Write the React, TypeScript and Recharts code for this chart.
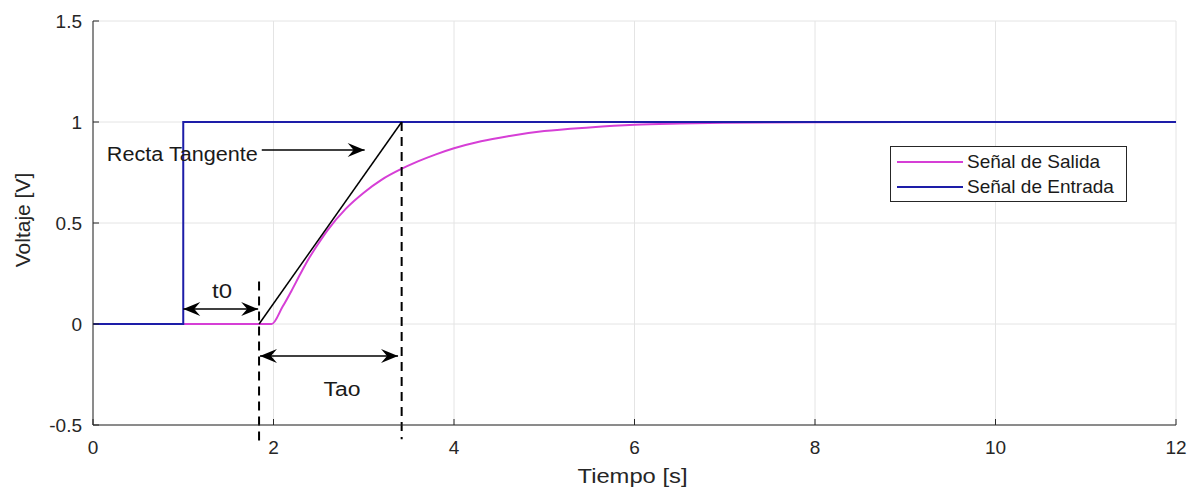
import { LineChart, Line, XAxis, YAxis, CartesianGrid, ReferenceLine, ReferenceDot, Legend } from 'recharts'

const entradaT = [0, 1, 1, 12]
const entradaV = [0, 0, 1, 1]

const salidaT = [0, 1.98, 2.1, 2.2, 2.3, 2.4, 2.5, 2.6, 2.8, 3.0, 3.2, 3.4, 3.6, 3.8, 4.0, 4.3, 4.6, 5.0, 5.5, 6.0, 6.5, 7.0, 8.0, 10, 12]
const salidaV = [0, 0, 0.085, 0.165, 0.25, 0.33, 0.4, 0.465, 0.57, 0.65, 0.715, 0.764, 0.805, 0.84, 0.87, 0.905, 0.93, 0.955, 0.973, 0.986, 0.992, 0.996, 0.999, 1, 1]

const tangenteT = [1.84, 3.42]
const tangenteV = [0, 1]

const xTicks = [0, 2, 4, 6, 8, 10, 12]
const yTicks = [-0.5, 0, 0.5, 1, 1.5]

const legendOrder = ['Señal de Salida', 'Señal de Entrada']

const AXIS = '#262626'
const FONT = '"Liberation Sans", Arial, sans-serif'

const toRows = (ts: number[], vs: number[]) => ts.map((t, i) => ({ t, v: vs[i] }))

const entrada = toRows(entradaT, entradaV)
const salida = toRows(salidaT, salidaV)
const tangente = toRows(tangenteT, tangenteV)

// filled "vback" arrow head, tip at (x, y), pointing along dir (+1 right, -1 left)
function head(x: number, y: number, dir: number) {
  const L = 17
  const W = 7
  const N = 11
  return `${x},${y} ${x - dir * L},${y - W} ${x - dir * N},${y} ${x - dir * L},${y + W}`
}

function arrowShape(both: boolean) {
  return (p: any) => {
    const { x1, y1, x2, y2 } = p
    return (
      <g>
        <line x1={x1} y1={y1} x2={x2} y2={y2} stroke="#000" strokeWidth={1.5} />
        <polygon points={head(x2, y2, 1)} fill="#000" />
        {both && <polygon points={head(x1, y1, -1)} fill="#000" />}
      </g>
    )
  }
}

function textShape(label: string, size: number, len: number) {
  return (p: any) => (
    <text
      x={p.cx - len / 2}
      y={p.cy}
      textLength={len}
      lengthAdjust="spacingAndGlyphs"
      dominantBaseline="central"
      fontSize={size}
      fill="#1a1a1a"
      fontFamily={FONT}
    >
      {label}
    </text>
  )
}

function LegendBox({ payload }: any) {
  const items = legendOrder
    .map((name) => (payload || []).find((it: any) => it.value === name))
    .filter(Boolean)
  return (
    <div style={{ border: `1px solid ${AXIS}`, background: '#fff', width: 235, padding: '2px 0', fontFamily: FONT }}>
      {items.map((it: any) => (
        <div key={it.value} style={{ display: 'flex', alignItems: 'center', height: 25 }}>
          <div style={{ width: 66, height: 2, background: it.color, marginLeft: 6, marginRight: 4 }} />
          <span style={{ fontSize: 19, color: '#1a1a1a' }}>{it.value}</span>
        </div>
      ))}
    </div>
  )
}

export default function App() {
  return (
    <div style={{ position: 'relative', width: 1190, height: 483 }}>
      <LineChart width={1190} height={483} margin={{ top: 13, right: 22, bottom: 0, left: 0 }} style={{ fontFamily: FONT }}>
        <CartesianGrid stroke="#e4e4e4" strokeWidth={1} />
        <XAxis
          dataKey="t"
          type="number"
          domain={[0, 12]}
          ticks={xTicks}
          allowDuplicatedCategory={false}
          height={66}
          stroke={AXIS}
          tickSize={-6}
          tickMargin={22}
          tick={{ fill: AXIS, fontSize: 19 }}
          label={{
            content: (props: any) => {
              const vb = props.viewBox
              const cx = vb.x + vb.width / 2 - 2
              return (
                <text x={cx - 55} y={vb.y + 50} textLength={110} lengthAdjust="spacingAndGlyphs" dominantBaseline="central" fontSize={21} fill={AXIS} fontFamily={FONT}>
                  Tiempo [s]
                </text>
              )
            },
          }}
        />
        <XAxis xAxisId="top" orientation="top" dataKey="t" type="number" domain={[0, 12]} ticks={xTicks} height={0} stroke={AXIS} tickSize={-6} tick={() => <g />} />
        <YAxis
          type="number"
          domain={[-0.5, 1.5]}
          ticks={yTicks}
          width={85}
          stroke={AXIS}
          tickSize={-6}
          tickMargin={17}
          tick={{ fill: AXIS, fontSize: 19 }}
          label={{
            content: (props: any) => {
              const vb = props.viewBox
              const cy = vb.y + vb.height / 2 - 3
              return (
                <text x={14} y={cy} transform={`rotate(-90 14 ${cy})`} textAnchor="middle" dominantBaseline="central" fontSize={21} fill={AXIS} fontFamily={FONT}>
                  Voltaje [V]
                </text>
              )
            },
          }}
        />
        <YAxis yAxisId="right" orientation="right" type="number" domain={[-0.5, 1.5]} ticks={yTicks} width={0} stroke={AXIS} tickSize={-6} tick={() => <g />} />

        <Line data={salida} type="monotone" dataKey="v" name="Señal de Salida" stroke="#d63fd6" strokeWidth={2} dot={false} isAnimationActive={false} />
        <Line data={entrada} dataKey="v" name="Señal de Entrada" stroke="#1d1da8" strokeWidth={2} dot={false} isAnimationActive={false} />
        <Line data={tangente} dataKey="v" name="Recta Tangente" legendType="none" stroke="#000" strokeWidth={1.5} dot={false} isAnimationActive={false} />

        <ReferenceLine segment={[{ x: 1.84, y: 0.21 }, { x: 1.84, y: -0.6 }]} stroke="#000" strokeWidth={2} strokeDasharray="9 6" ifOverflow="visible" />
        <ReferenceLine segment={[{ x: 3.42, y: 1 }, { x: 3.42, y: -0.57 }]} stroke="#000" strokeWidth={2} strokeDasharray="9 6" ifOverflow="visible" />

        <ReferenceLine segment={[{ x: 1.87, y: 0.861 }, { x: 3.01, y: 0.861 }]} shape={arrowShape(false)} ifOverflow="visible" />
        <ReferenceLine segment={[{ x: 1.0, y: 0.074 }, { x: 1.83, y: 0.074 }]} shape={arrowShape(true)} ifOverflow="visible" />
        <ReferenceLine segment={[{ x: 1.85, y: -0.158 }, { x: 3.38, y: -0.158 }]} shape={arrowShape(true)} ifOverflow="visible" />

        <ReferenceDot x={0.99} y={0.842} r={0} shape={textShape('Recta Tangente', 20, 151)} ifOverflow="visible" />
        <ReferenceDot x={1.43} y={0.163} r={0} shape={textShape('t0', 20, 20)} ifOverflow="visible" />
        <ReferenceDot x={2.76} y={-0.322} r={0} shape={textShape('Tao', 20, 37)} ifOverflow="visible" />

        <Legend layout="horizontal" verticalAlign="middle" align="center" content={<LegendBox />} wrapperStyle={{ left: 882, top: 138, width: 'auto' }} />
      </LineChart>
    </div>
  )
}
